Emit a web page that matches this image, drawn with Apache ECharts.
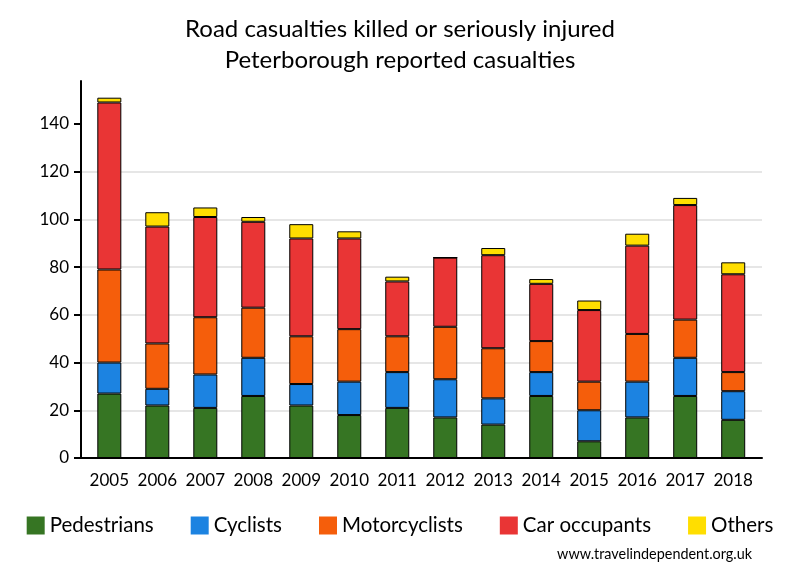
<!DOCTYPE html>
<html>
<head>
<meta charset="utf-8">
<script src="https://cdn.jsdelivr.net/npm/echarts@6/dist/echarts.min.js"></script>
<style>html,body{margin:0;padding:0;background:#fff;}#c{width:800px;height:580px;}</style>
</head>
<body>
<div id="c"></div>
<script>
const years = [2005,2006,2007,2008,2009,2010,2011,2012,2013,2014,2015,2016,2017,2018];
const pedestrians   = [27,22,21,26,22,18,21,17,14,26,7,17,26,16];
const cyclists      = [13,7,14,16,9,14,15,16,11,10,13,15,16,12];
const motorcyclists = [39,19,24,21,20,22,15,22,21,13,12,20,16,8];
const carOccupants  = [70,49,42,36,41,38,23,29,39,24,30,37,48,41];
const others        = [2,6,4,2,6,3,2,0,3,2,4,5,3,5];
const yTicks = [0,20,40,60,80,100,120,140];
const titleLines = ['Road casualties killed or seriously injured','Peterborough reported casualties'];
const sourceText = 'www.travelindependent.org.uk';

const FONT = 'Lato';
const seriesDefs = [
  ['Pedestrians', pedestrians, '#367523'],
  ['Cyclists', cyclists, '#1c83e1'],
  ['Motorcyclists', motorcyclists, '#f55e0b'],
  ['Car occupants', carOccupants, '#e93535'],
  ['Others', others, '#ffde00']
];

const chart = echarts.init(document.getElementById('c'), null, {renderer:'canvas'});
chart.setOption({
  animation: false,
  backgroundColor: '#fff',
  title: [
    {text: titleLines.join('\n'), left: 'center', top: 9,
     textStyle: {fontFamily: FONT, fontSize: 24, fontWeight: 'normal', color: '#000', lineHeight: 31}},
    {text: sourceText, right: 43, top: 542,
     textStyle: {fontFamily: FONT, fontSize: 14.4, fontWeight: 'normal', color: '#000'}}
  ],
  legend: {
    bottom: 39, left: 'center', itemWidth: 18, itemHeight: 18, itemGap: 37,
    icon: 'rect',
    itemStyle: {borderWidth: 0},
    textStyle: {fontFamily: FONT, fontSize: 20.5, color: '#000'}
  },
  grid: {left: 81, right: 38, top: 81, bottom: 122, containLabel: false},
  xAxis: {
    type: 'value', min: 2004.41, max: 2018.6,
    axisLine: {show: true, lineStyle: {color: '#000', width: 2}},
    axisTick: {show: false},
    splitLine: {show: false},
    axisLabel: {customValues: years, formatter: v => String(v), margin: 14,
      fontFamily: FONT, fontSize: 17, color: '#000'}
  },
  yAxis: {
    type: 'value', min: 0, max: 158, interval: 20,
    axisLine: {show: true, lineStyle: {color: '#000', width: 2}},
    axisTick: {show: true, length: 7, lineStyle: {color: '#000', width: 2}, customValues: yTicks},
    axisLabel: {customValues: yTicks, margin: 12, fontFamily: FONT, fontSize: 17, color: '#000'},
    splitLine: {show: true, showMaxLine: false, lineStyle: {color: '#e6e6e6', width: 2}}
  },
  series: seriesDefs.map(([name, vals, color]) => ({
    name, type: 'bar', stack: 'total', barWidth: 24,
    dimensions: ['value', 'year'],
    encode: {x: 'year', y: 'value'},
    data: vals.map((v, i) => [v, years[i]]),
    itemStyle: {color, borderColor: '#000', borderWidth: 1}
  }))
});
</script>
</body>
</html>
